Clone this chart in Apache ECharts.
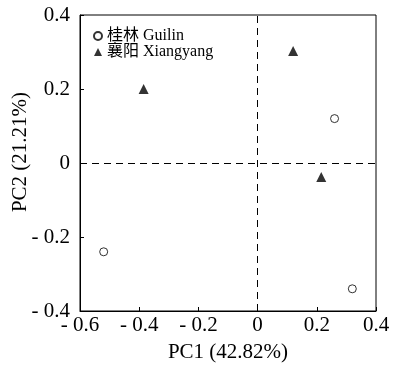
<!DOCTYPE html>
<html>
<head>
<meta charset="utf-8">
<script src="https://cdn.jsdelivr.net/npm/echarts@6/dist/echarts.min.js"></script>
<style>
  html, body { margin: 0; padding: 0; background: #fff; }
  #chart { width: 393px; height: 367px; }
</style>
</head>
<body>
<div id="chart"></div>
<script>
// PCA scores
const guilin = [[0.26, 0.12], [0.32, -0.34], [-0.52, -0.24]];
const xiangyang = [[-0.385, 0.2], [0.12, 0.303], [0.215, -0.038]];
const seriesNames = ['桂林 Guilin', '襄阳 Xiangyang'];
const xName = 'PC1 (42.82%)';
const yName = 'PC2 (21.21%)';

const font = "'Liberation Serif', 'Noto Sans CJK SC', serif";
// 負の値は "- 0.2" の形
const fmt = (v) => (v < 0 ? '- ' + Math.abs(v).toFixed(1) : v === 0 ? '0' : v.toFixed(1));

const chart = echarts.init(document.getElementById('chart'));
chart.setOption({
  animation: false,
  grid: {
    left: 80, right: 17, top: 15, bottom: 56,
    outerBoundsMode: 'none', containLabel: false,
    show: true, borderColor: '#000', borderWidth: 1
  },
  legend: {
    orient: 'vertical',
    left: 88, top: 23,
    itemWidth: 8, itemHeight: 8, itemGap: 0,
    data: [
      { name: seriesNames[0], icon: 'circle' },
      { name: seriesNames[1], icon: 'triangle' }
    ],
    textStyle: { fontFamily: font, fontSize: 16, color: '#000', padding: [0, 0, 0, 0] }
  },
  xAxis: {
    type: 'value', min: -0.6, max: 0.4, interval: 0.2,
    name: xName, nameLocation: 'middle', nameGap: 31,
    nameTextStyle: { fontFamily: font, fontSize: 21, color: '#000' },
    axisLine: { onZero: false, lineStyle: { color: '#000' } },
    axisTick: { inside: true, length: 4, lineStyle: { color: '#000' } },
    axisLabel: { formatter: fmt, fontFamily: font, fontSize: 21, color: '#000', margin: 4 },
    splitLine: { show: false }
  },
  yAxis: {
    type: 'value', min: -0.4, max: 0.4, interval: 0.2,
    name: yName, nameLocation: 'middle', nameGap: 49, nameMoveOverlap: false,
    nameTextStyle: { fontFamily: font, fontSize: 21, color: '#000', padding: [0, 0, 0, 22] },
    axisLine: { onZero: false, lineStyle: { color: '#000' } },
    axisTick: { inside: true, length: 4, lineStyle: { color: '#000' } },
    axisLabel: { formatter: fmt, fontFamily: font, fontSize: 21, color: '#000', margin: 10 },
    splitLine: { show: false }
  },
  series: [
    {
      name: seriesNames[0],
      type: 'scatter',
      data: guilin,
      symbol: 'circle',
      symbolSize: 8,
      itemStyle: { color: '#fff', borderColor: '#000', borderWidth: 1 },
      markLine: {
        silent: true,
        symbol: 'none',
        label: { show: false },
        lineStyle: { color: '#000', width: 1, type: [7, 5] },
        data: [{ xAxis: 0 }, { yAxis: 0 }]
      }
    },
    {
      name: seriesNames[1],
      type: 'scatter',
      data: xiangyang,
      symbol: 'triangle',
      symbolSize: 10,
      itemStyle: { color: '#000' }
    }
  ]
});
</script>
</body>
</html>
